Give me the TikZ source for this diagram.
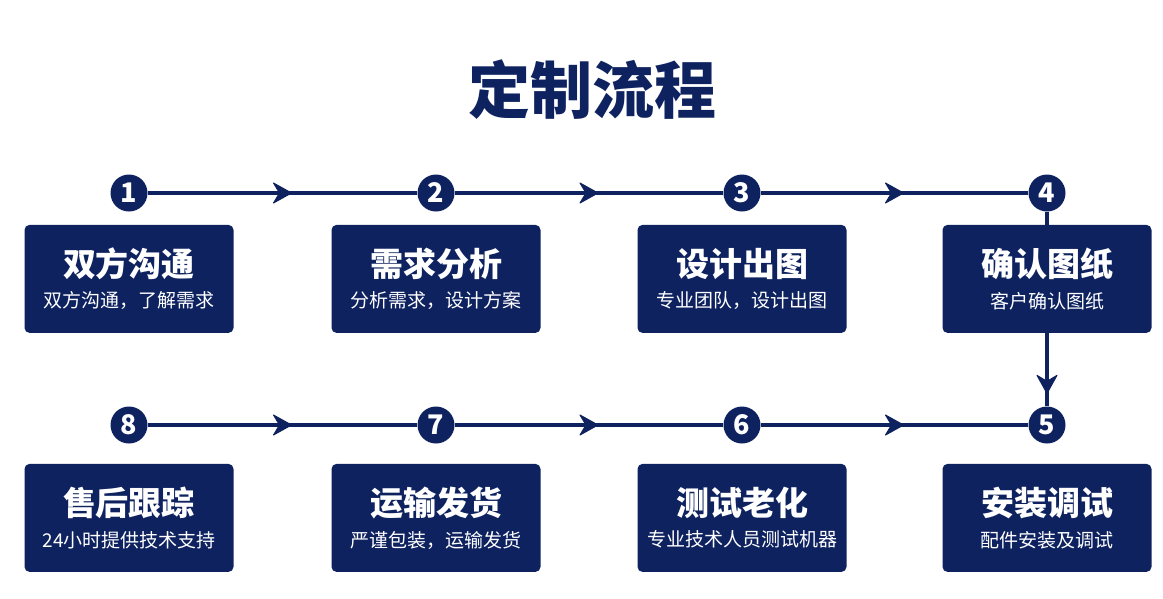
\documentclass[tikz,border=0pt]{standalone}
\usepackage{fontspec}
\setmainfont{Noto Sans CJK SC}
\usetikzlibrary{arrows.meta,positioning,decorations.markings}
\definecolor{navy}{RGB}{14,34,96}
\newcommand{\headtxt}[1]{{\fontsize{33}{36}\selectfont\bfseries #1}}
\newcommand{\subtxt}[1]{{\fontsize{19}{22}\selectfont #1}}
\newcommand{\chevron}{\filldraw[navy, line width=1pt, line join=round]
  (-9pt,-10pt) -- (9pt,0pt) -- (-9pt,10pt) -- (-3pt,0pt) -- cycle;}

\begin{document}
\begin{tikzpicture}[
  x=1pt, y=-1pt,
  num/.style={circle, fill=navy, text=white, minimum size=37pt, inner sep=0pt,
              font=\fontsize{27}{27}\selectfont\bfseries},
  box/.style={fill=navy, rounded corners=5pt, minimum width=209pt, minimum height=108pt,
              align=center, text=white, inner sep=0pt},
  link/.style={line width=4pt, draw=navy},
  arr/.style={link, postaction={decorate}, decoration={markings,
              mark=at position 0.5 with {\chevron}}},
  downarr/.style={link, postaction={decorate}, decoration={markings,
              mark=at position 0.7 with {\chevron}}}
]
\useasboundingbox (0,0) rectangle (1163,598);

\node[text=navy, font=\fontsize{62}{62}\selectfont\bfseries] (title) at (592,90) {定制流程};

% steps
\node[num] (c1) at (129,193) {1};
\node[num] (c2) at (436,193) {2};
\node[num] (c3) at (742,193) {3};
\node[num] (c4) at (1047,193) {4};
\node[num] (c5) at (1047,425) {5};
\node[num] (c6) at (742,425) {6};
\node[num] (c7) at (436,425) {7};
\node[num] (c8) at (129,425) {8};

\draw[arr] (c1) -- (c2);
\draw[arr] (c2) -- (c3);
\draw[arr] (c3) -- (c4);
\draw[arr] (c8) -- (c7);
\draw[arr] (c7) -- (c6);
\draw[arr] (c6) -- (c5);

\node[box, below=13pt of c1] (b1) {\headtxt{双方沟通}\\[11pt]\subtxt{双方沟通，了解需求}};
\node[box, below=13pt of c2] (b2) {\headtxt{需求分析}\\[11pt]\subtxt{分析需求，设计方案}};
\node[box, below=13pt of c3] (b3) {\headtxt{设计出图}\\[11pt]\subtxt{专业团队，设计出图}};
\node[box, below=13pt of c4] (b4) {\headtxt{确认图纸}\\[11pt]\subtxt{客户确认图纸}};
\node[box, below=20pt of c8] (b8) {\headtxt{售后跟踪}\\[11pt]\subtxt{24小时提供技术支持}};
\node[box, below=20pt of c7] (b7) {\headtxt{运输发货}\\[11pt]\subtxt{严谨包装，运输发货}};
\node[box, below=20pt of c6] (b6) {\headtxt{测试老化}\\[11pt]\subtxt{专业技术人员测试机器}};
\node[box, below=20pt of c5] (b5) {\headtxt{安装调试}\\[11pt]\subtxt{配件安装及调试}};

\draw[link] (c4) -- (b4);
\draw[downarr] (b4) -- (c5);
\end{tikzpicture}
\end{document}
